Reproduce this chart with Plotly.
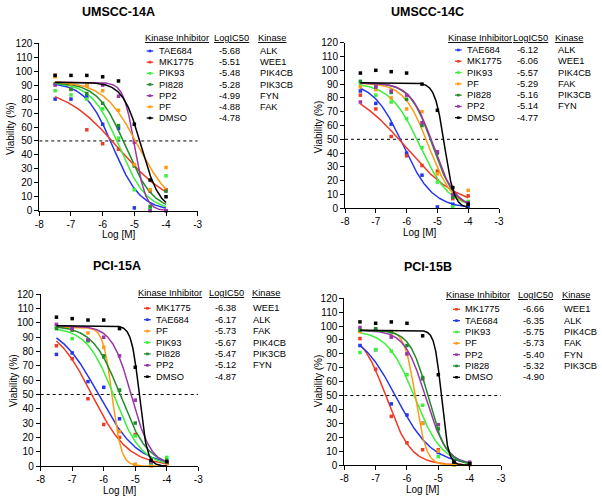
import numpy as np
import plotly.graph_objects as go

W, H = 602, 502
FONT = "Liberation Sans, Arial, sans-serif"

conc = [-7.5, -7, -6.5, -6, -5.5, -5, -4.5, -4]
x_ticks = [-8, -7, -6, -5, -4, -3]
x_ticklabels = ["-8", "-7", "-6", "-5", "-4", "-3"]
y_ticks = list(range(0, 121, 10))

colors = {"TAE684": "#2436f0", "MK1775": "#f03a24", "PIK93": "#3cf03c",
          "PI828": "#1e8c28", "PP2": "#9a36a8", "PF": "#ff9a14", "DMSO": "#000000"}

titles = ["UMSCC-14A", "UMSCC-14C", "PCI-15A", "PCI-15B"]

# ---------------- UMSCC-14A ----------------
p1_names = ["TAE684", "MK1775", "PIK93", "PI828", "PP2", "PF", "DMSO"]
p1_logic50 = [-5.68, -5.51, -5.48, -5.28, -4.99, -4.88, -4.78]
p1_kinase = ["ALK", "WEE1", "PIK4CB", "PIK3CB", "FYN", "FAK", ""]
p1_top = [92, 90, 92, 92, 92, 93, 92]
p1_bottom = [0, 0, 0, 0, 0, 0, 0]
p1_hill = [1.0, 0.5, 1.0, 1.0, 2.5, 0.8, 1.5]
p1_values = [
    [80, 80, 82, 62, 59, 2, 0.5, 0],
    [97, 87, 58, 48, 44, 33, 14, 15],
    [86, 83, 80, 73, 52, 15, 1, 25],
    [91, 87, 84, 77, 61, 32, 3, 14],
    [90, 91, 90, 90, 82, 49, 0, 0],
    [96, 91, 90, 86, 72, 33, 15, 31],
    [97, 97, 97, 96, 93, 62, 22, 10],
]

# ---------------- UMSCC-14C ----------------
p2_names = ["TAE684", "MK1775", "PIK93", "PF", "PI828", "PP2", "DMSO"]
p2_logic50 = [-6.12, -6.06, -5.57, -5.29, -5.16, -5.14, -4.77]
p2_kinase = ["ALK", "WEE1", "PIK4CB", "FAK", "PIK3CB", "FYN", ""]
p2_top = [92, 90, 91, 91, 91, 91, 91]
p2_bottom = [0, 0, 0, 0, 0, 0, 0]
p2_hill = [0.9, 0.5, 0.9, 1.1, 1.2, 1.2, 2.8]
p2_values = [
    [85, 76, 61, 40, 24, 1, 3, 1],
    [82, 72, 52, 38, 31, 27, 7, 9],
    [90, 82, 77, 65, 44, 19, 1, 5],
    [88, 86, 80, 72, 70, 25, 10, 13],
    [92, 88, 84, 79, 60, 40, 8, 3],
    [77, 88, 85, 82, 62, 41, 10, 4],
    [98, 100, 99, 98, 90, 71, 15, 3],
]

# ---------------- PCI-15A ----------------
p3_names = ["MK1775", "TAE684", "PF", "PIK93", "PI828", "PP2", "DMSO"]
p3_logic50 = [-6.38, -6.17, -5.73, -5.67, -5.47, -5.12, -4.87]
p3_kinase = ["WEE1", "ALK", "FAK", "PIK4CB", "PIK3CB", "FYN", ""]
p3_top = [100, 100, 97, 97, 98, 98, 98]
p3_bottom = [0, 0, 0, 0, 0, 0, 0]
p3_hill = [0.75, 0.7, 3.0, 1.0, 1.0, 1.4, 3.5]
p3_values = [
    [84, 75, 47, 29, 20, 22, 1, 2],
    [78, 79, 59, 55, 33, 1, 2, 2],
    [98, 95, 93, 83, 24, 1, 0, 1],
    [97, 89, 87, 76, 53, 21, 2, 6],
    [96, 95, 88, 77, 53, 30, 3, 4],
    [99, 96, 88, 90, 77, 46, 3, 3],
    [104, 103, 102, 102, 96, 69, 4, 3],
]

# ---------------- PCI-15B ----------------
p4_names = ["MK1775", "TAE684", "PIK93", "PF", "PP2", "PI828", "DMSO"]
p4_logic50 = [-6.66, -6.35, -5.75, -5.73, -5.40, -5.32, -4.90]
p4_kinase = ["WEE1", "ALK", "PIK4CB", "FAK", "FYN", "PIK3CB", ""]
p4_top = [97, 98, 97, 97, 97, 97, 97]
p4_bottom = [0, 0, 0, 0, 0, 0, 0]
p4_hill = [1.1, 0.75, 1.0, 2.5, 1.3, 1.5, 4.0]
p4_values = [
    [91, 69, 35, 16, 11, 11, 1, 1],
    [86, 83, 44, 36, 30, 9, 2, 1],
    [81, 83, 82, 65, 43, 6, 0, 1],
    [96, 97, 93, 80, 30, 10, 0, 0],
    [99, 98, 92, 80, 62, 29, 3, 2],
    [97, 98, 96, 86, 63, 26, 3, 1],
    [103, 102, 103, 102, 93, 65, 2, 1],
]

panels = [
    (p1_names, p1_logic50, p1_kinase, p1_top, p1_bottom, p1_hill, p1_values),
    (p2_names, p2_logic50, p2_kinase, p2_top, p2_bottom, p2_hill, p2_values),
    (p3_names, p3_logic50, p3_kinase, p3_top, p3_bottom, p3_hill, p3_values),
    (p4_names, p4_logic50, p4_kinase, p4_top, p4_bottom, p4_hill, p4_values),
]

# ---------- layout geometry (pixels) ----------
areas = [(39.3, 197.7, 43.3, 210.7), (345, 499, 42.7, 208.3),
         (40.7, 198.3, 294.3, 466), (344.3, 501, 298.3, 465)]
title_pos = [(118, 12.5), (427.7, 12.5), (116.7, 265.7), (427.7, 266.7)]
xtitle_pos = [(118.5, 234), (420, 232), (119.5, 490), (422.7, 489.5)]
ytitle_pos = [(10, 129), (318.3, 127), (13, 381), (318.3, 381)]
legends = [
    (38.3, 143.3, 212.3, 255.7, 51.0, 11.17, 146.7, 153.3, 157.3, 229.5, 258.0),
    (38.3, 445.7, 511.0, 553.3, 50.0, 11.28, 455.0, 461.7, 465.0, 527.0, 556.0),
    (293.3, 136.0, 207.3, 250.0, 308.3, 11.4, 144.0, 150.7, 154.0, 225.5, 251.0),
    (295.0, 444.3, 516.0, 560.0, 309.3, 11.33, 453.0, 460.0, 463.3, 533.5, 561.7),
]

def px(x):
    return x / W

def py(y):
    return 1 - y / H

fig = go.Figure()
layout = dict(width=W, height=H, margin=dict(l=0, r=0, t=0, b=0, autoexpand=False),
              paper_bgcolor="white", plot_bgcolor="white", showlegend=False,
              font=dict(family=FONT, color="black"))
shapes, annotations = [], []

xfit = np.linspace(-7.5, -4, 300)

for i, (names, logic, kin, top, bot, hill, vals) in enumerate(panels):
    k = "" if i == 0 else str(i + 1)
    xa, ya = "x" + k, "y" + k
    l, r, t, b = areas[i]
    layout["xaxis" + k] = dict(domain=[px(l), px(r)], range=[-8, -3], anchor=ya,
                               tickvals=x_ticks, ticktext=x_ticklabels,
                               showline=True, linecolor="black", linewidth=1,
                               ticks="outside", ticklen=4, tickcolor="black",
                               showgrid=False, zeroline=False, automargin=False,
                               tickfont=dict(size=10, family=FONT))
    layout["yaxis" + k] = dict(domain=[py(b), py(t)], range=[0, 120], anchor=xa,
                               tickvals=y_ticks, showline=True, linecolor="black",
                               linewidth=1, ticks="outside", ticklen=4,
                               tickcolor="black", showgrid=False, zeroline=False,
                               automargin=False,
                               tickfont=dict(size=10, family=FONT))
    shapes.append(dict(type="line", xref=xa, yref=ya, x0=-8, x1=-3, y0=50, y1=50,
                       line=dict(color="black", width=1, dash="dot"), layer="below"))
    for j, name in enumerate(names):
        c = colors[name]
        yfit = bot[j] + (top[j] - bot[j]) / (1 + 10 ** ((xfit - logic[j]) * hill[j]))
        fig.add_trace(go.Scatter(x=xfit, y=yfit, mode="lines", xaxis=xa, yaxis=ya,
                                 line=dict(color=c, width=1.5), hoverinfo="skip"))
        fig.add_trace(go.Scatter(x=conc, y=vals[j], mode="markers", xaxis=xa, yaxis=ya,
                                 marker=dict(color=c, size=3.5, symbol="square"),
                                 cliponaxis=False, name=name))
    tx, ty = title_pos[i]
    annotations.append(dict(text="<b>%s</b>" % titles[i], x=px(tx), y=py(ty),
                            xref="paper", yref="paper", showarrow=False,
                            xanchor="center", yanchor="middle",
                            font=dict(size=12.5, family=FONT)))
    tx, ty = xtitle_pos[i]
    annotations.append(dict(text="Log [M]", x=px(tx), y=py(ty), xref="paper",
                            yref="paper", showarrow=False, xanchor="center",
                            yanchor="middle", font=dict(size=10, family=FONT)))
    tx, ty = ytitle_pos[i]
    annotations.append(dict(text="Viability (%)", x=px(tx), y=py(ty), xref="paper",
                            yref="paper", showarrow=False, xanchor="center",
                            yanchor="middle", textangle=-90,
                            font=dict(size=10, family=FONT)))
    hy, kix, lx, kx, ry0, step, mx0, mx1, nx, vx, kinx = legends[i]
    for txt, x0 in (("Kinase Inhibitor", kix), ("LogIC50", lx), ("Kinase", kx)):
        annotations.append(dict(text="<u>%s</u>" % txt, x=px(x0), y=py(hy),
                                xref="paper", yref="paper", showarrow=False,
                                xanchor="left", yanchor="middle",
                                font=dict(size=9.3, family=FONT)))
    for j, name in enumerate(names):
        yy = ry0 + j * step
        c = colors[name]
        shapes.append(dict(type="line", xref="paper", yref="paper", x0=px(mx0),
                           x1=px(mx1), y0=py(yy), y1=py(yy),
                           line=dict(color=c, width=1.3)))
        mc = (mx0 + mx1) / 2
        shapes.append(dict(type="rect", xref="paper", yref="paper",
                           x0=px(mc - 1.3), x1=px(mc + 1.3), y0=py(yy - 1.3),
                           y1=py(yy + 1.3), fillcolor=c, line=dict(width=0)))
        annotations.append(dict(text=name, x=px(nx), y=py(yy), xref="paper",
                                yref="paper", showarrow=False, xanchor="left",
                                yanchor="middle", font=dict(size=9.3, family=FONT)))
        annotations.append(dict(text="%.2f" % logic[j], x=px(vx), y=py(yy),
                                xref="paper", yref="paper", showarrow=False,
                                xanchor="center", yanchor="middle",
                                font=dict(size=9.3, family=FONT)))
        if kin[j]:
            annotations.append(dict(text=kin[j], x=px(kinx), y=py(yy), xref="paper",
                                    yref="paper", showarrow=False, xanchor="left",
                                    yanchor="middle", font=dict(size=9.3, family=FONT)))

layout["shapes"] = shapes
layout["annotations"] = annotations
fig.update_layout(**layout)
fig.write_html("out.html", config={"displayModeBar": False, "staticPlot": True},
               post_script="document.body.style.margin='0';document.body.style.overflow='hidden';")
